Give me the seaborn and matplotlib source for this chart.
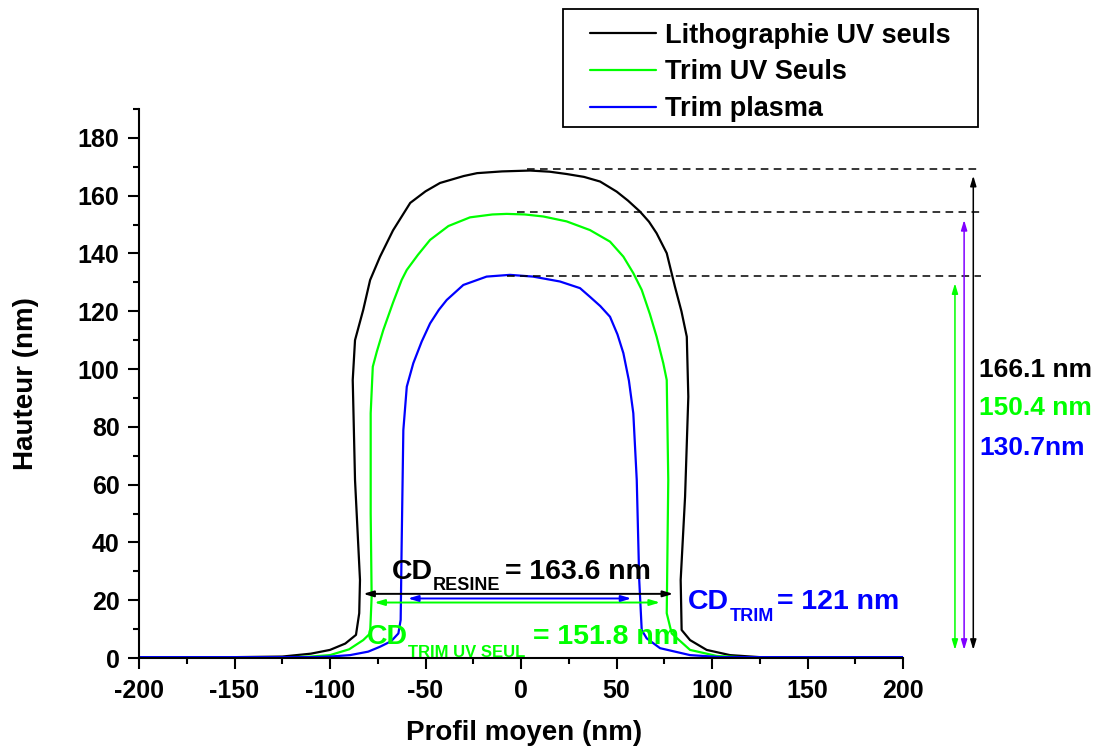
import numpy as np
import pandas as pd
import matplotlib
matplotlib.use("Agg")
import matplotlib.pyplot as plt
from matplotlib.ticker import MultipleLocator
from matplotlib.patches import Rectangle
import seaborn as sns

# profils AFM
litho_x = [-200, -150, -125, -110, -100, -92, -86.4, -84.7, -84.3, -86.9, -88.1, -86.9,
           -82.6, -79, -73.8, -67, -58, -50, -42.4, -30, -23, -10, 4.7, 15, 23.9, 33,
           41.4, 50.1, 56, 62.3, 67, 71, 76.3, 80.6, 84, 86.8, 87.6, 85.9, 83.6, 84.1,
           88.5, 97.2, 109.4, 125, 150, 200]
litho_y = [0.3, 0.3, 0.5, 1.5, 2.8, 5, 8, 15.5, 27, 61.6, 96.2, 110,
           120.5, 130.8, 138.9, 148, 157.5, 161.5, 164.4, 166.8, 167.8, 168.4, 168.7, 168.3, 167.5, 166.5,
           164.9, 161.4, 158.3, 154.5, 151, 147, 140.1, 128.5, 120, 111.2, 90.4, 55.8, 27, 9.7,
           6.2, 2.8, 1, 0.3, 0.3, 0.3]

uv_x = [-200, -120, -110, -100, -90, -82.6, -79, -78.2, -78.7, -78.7, -77.6, -75.5,
        -72.1, -67, -62.5, -59.8, -54, -47.6, -38, -26.7, -15, -7.5, 2, 11.7, 23.9,
        36.1, 46.6, 53.6, 58.8, 63.2, 67.5, 71, 74.5, 76.3, 77.1, 76.3, 78.9, 88.5,
        102.5, 115, 200]
uv_y = [0.3, 0.3, 0.5, 1, 3, 6.2, 8.5, 21.2, 50, 84.7, 100.8, 106,
        113.5, 123, 130.8, 134.3, 139.5, 144.7, 149.5, 152.5, 153.5, 153.7, 153.5, 152.8, 151.1,
        148.1, 144.1, 138.9, 133.2, 127.4, 119, 111.2, 102, 96.2, 61.6, 15.5, 8.5, 2.8,
        0.7, 0.3, 0.3]

plasma_x = [-200, -110, -100, -89.5, -80, -73.8, -68, -64.2, -63, -62.5, -61.6, -59.8,
            -56.4, -52, -47.6, -43, -38.9, -30.2, -18, -5.8, 6.3, 20.4, 30.9, 36.1,
            41.5, 46.6, 50.5, 53.6, 56.5, 58.8, 60.6, 61.9, 63.2, 65.8, 72.8, 88.5, 105, 200]
plasma_y = [0.3, 0.3, 0.5, 1, 2.2, 3.9, 5.8, 8.5, 13.2, 38.5, 78.9, 93.9,
            102, 109.5, 115.8, 120.5, 123.9, 129.1, 132, 132.6, 132, 130.3, 128, 125,
            121.8, 118.1, 112, 105.5, 96, 84.7, 61.6, 27, 9.7, 6.8, 3.4, 1, 0.3, 0.3]

series = ["Lithographie UV seuls", "Trim UV Seuls", "Trim plasma"]
colors = {"Lithographie UV seuls": "#000000", "Trim UV Seuls": "#00ff00", "Trim plasma": "#0000ff"}

# hauteurs (pointillés) et largeurs CD (flèches)
top_heights = [169.3, 154.3, 132.3]
top_start = [3, -2.3, -7.5]
cd_y = [22.2, 19.2, 20.6]
cd_left = [-82.6, -76.8, -59.2]
cd_right = [79.7, 72.8, 57.8]
h_arrow_x = [236.8, 227.2, 232.0]
h_arrow_top = [166.9, 129.7, 151.6]
h_arrow_colors = ["#000000", "#00ff00", "#8000ff"]

df = pd.concat([
    pd.DataFrame({"x": litho_x, "y": litho_y, "serie": series[0]}),
    pd.DataFrame({"x": uv_x, "y": uv_y, "serie": series[1]}),
    pd.DataFrame({"x": plasma_x, "y": plasma_y, "serie": series[2]}),
])

sns.set_style("ticks")
plt.rcParams["font.family"] = ["Liberation Sans", "DejaVu Sans"]
plt.rcParams["font.weight"] = "bold"
plt.rcParams["axes.unicode_minus"] = False
for k in ["text.color", "axes.labelcolor", "xtick.color", "ytick.color", "axes.edgecolor"]:
    plt.rcParams[k] = "black"

fig = plt.figure(figsize=(11.06, 7.49), dpi=100)
ax = fig.add_axes([139 / 1106, 1 - 658 / 749, 764 / 1106, 549 / 749])

sns.lineplot(data=df, x="x", y="y", hue="serie", hue_order=series, palette=colors,
             sort=False, estimator=None, units="serie", linewidth=1.6, ax=ax)

ax.set_xlim(-200, 200)
ax.set_ylim(0, 190)
ax.xaxis.set_major_locator(MultipleLocator(50))
ax.xaxis.set_minor_locator(MultipleLocator(25))
ax.yaxis.set_minor_locator(MultipleLocator(10))
ax.set_yticks(np.arange(0, 181, 20))
ax.tick_params(which="major", length=8, width=1.5, labelsize=18)
ax.tick_params(axis="x", which="major", pad=7)
ax.tick_params(axis="y", which="major", pad=6)
ax.tick_params(which="minor", length=4, width=1.5)
for lab in ax.get_xticklabels() + ax.get_yticklabels():
    lab.set_fontweight("bold")
sns.despine(ax=ax)
for s in ["left", "bottom"]:
    ax.spines[s].set_linewidth(1.5)

ax.set_xlabel("Profil moyen (nm)", fontsize=20, fontweight="bold")
ax.set_ylabel("Hauteur (nm)", fontsize=20, fontweight="bold")
ax.xaxis.set_label_coords(0.504, -0.113)
ax.yaxis.set_label_coords(-0.131, 0.5)

# légende dans un cadre au-dessus du graphique
handles, labels = ax.get_legend_handles_labels()
ax.get_legend().remove()
fig.legend(handles, labels, loc="upper left", bbox_to_anchor=(576 / 1106, 1 - 9 / 749),
           frameon=False, borderpad=0, handlelength=2.45, handletextpad=0.35,
           labelspacing=0.4, prop={"size": 19.5, "weight": "bold"})
fig.patches.append(Rectangle((563 / 1106, 1 - 127 / 749), 415 / 1106, 118 / 749,
                             transform=fig.transFigure, fill=False, edgecolor="black",
                             linewidth=1.3))

# pointillés des sommets
for h, x0 in zip(top_heights, top_start):
    ax.plot([x0, 241], [h, h], color="black", linestyle=(0, (5, 3.5)), linewidth=1.1,
            clip_on=False)

# flèches de hauteur
for xa, ya, c in zip(h_arrow_x, h_arrow_top, h_arrow_colors):
    ax.annotate("", xy=(xa, ya), xytext=(xa, 2.8), annotation_clip=False,
                arrowprops=dict(arrowstyle="<|-|>,head_length=0.5,head_width=0.15",
                                color=c, lw=1.1, shrinkA=0, shrinkB=0, mutation_scale=12))

# flèches CD
for y, xl, xr, c in zip(cd_y, cd_left, cd_right, ["#000000", "#00ff00", "#0000ff"]):
    ax.annotate("", xy=(xr, y), xytext=(xl, y), annotation_clip=False,
                arrowprops=dict(arrowstyle="<|-|>,head_length=0.5,head_width=0.15",
                                color=c, lw=1.4, shrinkA=0, shrinkB=0, mutation_scale=12))

big, small = 20.5, 13
ax.text(-67.5, 27.5, "CD", color="black", fontsize=big, fontweight="bold", va="baseline")
ax.text(-46.1, 23.5, "RESINE", color="black", fontsize=small, fontweight="bold", va="baseline")
ax.text(-8.5, 27.5, "= 163.6 nm", color="black", fontsize=big, fontweight="bold", va="baseline")

ax.text(87.4, 16.8, "CD", color="#0000ff", fontsize=big, fontweight="bold", va="baseline")
ax.text(109.2, 12.7, "TRIM", color="#0000ff", fontsize=small, fontweight="bold", va="baseline")
ax.text(134.0, 16.8, "= 121 nm", color="#0000ff", fontsize=big, fontweight="bold", va="baseline")

ax.text(-80.6, 5.0, "CD", color="#00ff00", fontsize=big, fontweight="bold", va="baseline")
ax.text(-59.2, 0.35, "TRIM UV SEUL", color="#00ff00", fontsize=12, fontweight="bold", va="baseline")
ax.text(6.3, 5.0, "= 151.8 nm", color="#00ff00", fontsize=big, fontweight="bold", va="baseline")

ax.text(239.8, 97.4, "166.1 nm", color="black", fontsize=19, fontweight="bold", va="baseline")
ax.text(239.8, 84.1, "150.4 nm", color="#00ff00", fontsize=19, fontweight="bold", va="baseline")
ax.text(239.8, 70.3, "130.7nm", color="#0000ff", fontsize=19, fontweight="bold", va="baseline")

fig.savefig("out.png", dpi=100)
